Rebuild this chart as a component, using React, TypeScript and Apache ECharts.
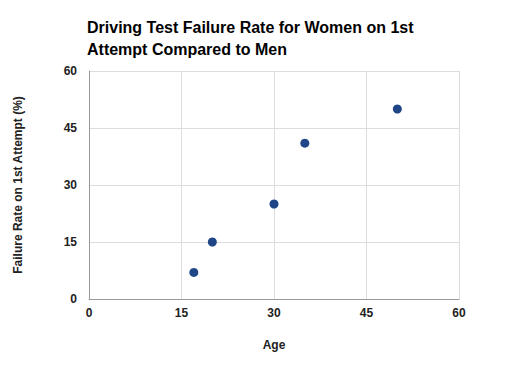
import React, { useEffect, useRef } from "react";
import * as echarts from "echarts";

const ages = [17, 20, 30, 35, 50];
const failureRates = [7, 15, 25, 41, 50];
const titleText = "Driving Test Failure Rate for Women on 1st\nAttempt Compared to Men";
const xAxisName = "Age";
const yAxisName = "Failure Rate on 1st Attempt (%)";

export default function App() {
  const ref = useRef<HTMLDivElement>(null);
  useEffect(() => {
    const chart = echarts.init(ref.current!, null, { renderer: "svg" });
    const font = "Arial, 'Liberation Sans', sans-serif";
    chart.setOption({
      animation: false,
      backgroundColor: "#ffffff",
      title: {
        text: titleText,
        left: 74,
        top: 3,
        textStyle: { fontFamily: font, fontSize: 16, fontWeight: "bold", color: "#000", lineHeight: 22 },
      },
      grid: { left: 81, right: 79, top: 63, bottom: 84, containLabel: false, outerBoundsMode: "none" },
      xAxis: {
        type: "value",
        min: 0,
        max: 60,
        interval: 15,
        name: xAxisName,
        nameLocation: "middle",
        nameGap: 40,
        nameTextStyle: { fontFamily: font, fontSize: 12, fontWeight: "bold", color: "#222" },
        axisLine: { show: true, lineStyle: { color: "#999", width: 1 } },
        axisTick: { show: false },
        axisLabel: { fontFamily: font, fontSize: 12, fontWeight: "bold", color: "#222", margin: 8 },
        splitLine: { show: true, lineStyle: { color: "#dddddd", width: 1 } },
      },
      yAxis: {
        type: "value",
        min: 0,
        max: 60,
        interval: 15,
        name: yAxisName,
        nameLocation: "middle",
        nameGap: 65,
        nameTextStyle: { fontFamily: font, fontSize: 12, fontWeight: "bold", color: "#222" },
        axisLine: { show: true, lineStyle: { color: "#999", width: 1 } },
        axisTick: { show: false },
        axisLabel: { fontFamily: font, fontSize: 12, fontWeight: "bold", color: "#222", margin: 12 },
        splitLine: { show: true, lineStyle: { color: "#dddddd", width: 1 } },
      },
      series: [
        {
          type: "scatter",
          data: ages.map((a, i) => [a, failureRates[i]]),
          symbolSize: 9,
          itemStyle: { color: "#1f4687", opacity: 1 },
        },
      ],
    });
    return () => chart.dispose();
  }, []);
  return <div ref={ref} style={{ width: 530, height: 375 }} />;
}
